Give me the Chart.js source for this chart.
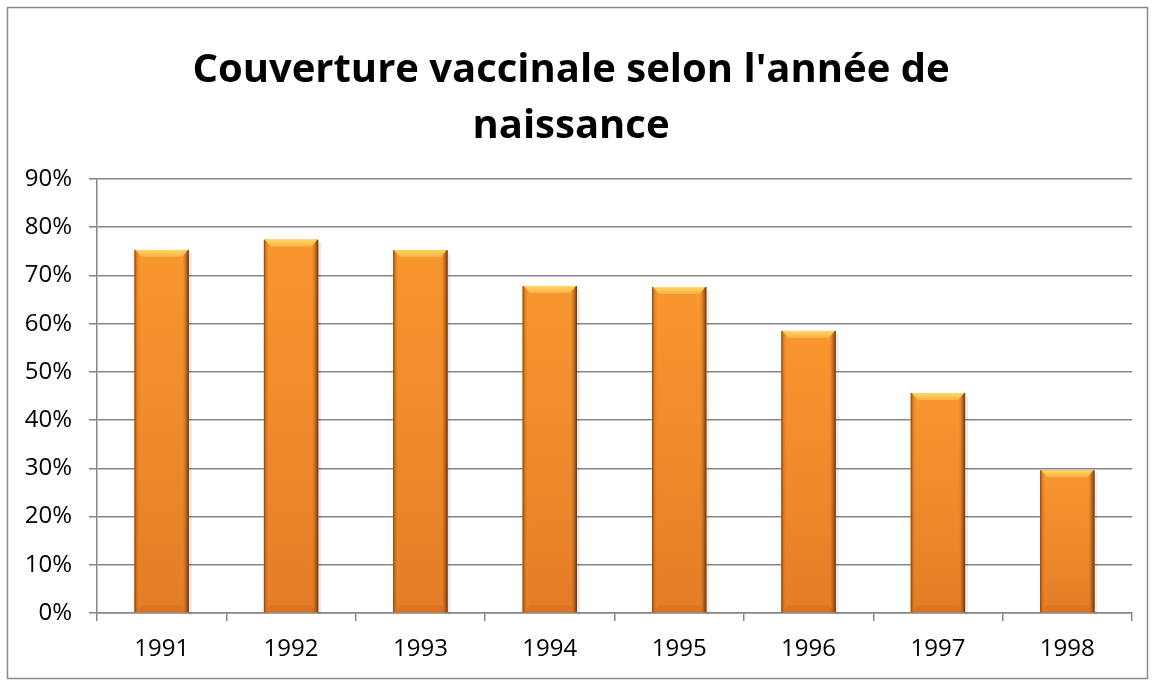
<!DOCTYPE html>
<html>
<head>
<meta charset="utf-8">
<script src="https://cdn.jsdelivr.net/npm/chart.js@4/dist/chart.umd.min.js"></script>
<style>
  html, body { margin: 0; padding: 0; background: #fff; }
  #box { width: 1155px; height: 681px; }
</style>
</head>
<body>
<div id="box"><canvas id="grafica" width="1155" height="681"></canvas></div>
<script>
const annees = ["1991", "1992", "1993", "1994", "1995", "1996", "1997", "1998"];
const couverture = [75.3, 77.4, 75.2, 67.8, 67.6, 58.5, 45.6, 29.6];
const titre = ["Couverture vaccinale selon l'année de", "naissance"];

const police = "'Open Sans', 'Noto Sans', sans-serif";

const cadre = {
  id: "cadre",
  beforeDraw(chart) {
    const c = chart.ctx;
    c.save();
    c.fillStyle = "#fff";
    c.fillRect(0, 0, chart.width, chart.height);
    c.strokeStyle = "#8a8a8a";
    c.lineWidth = 1.5;
    c.strokeRect(7.5, 7.5, 1140, 671);
    c.restore();
  }
};

// effet biseau facon Excel, dessine par-dessus chaque barre
const biseau = {
  id: "biseau",
  afterDatasetsDraw(chart) {
    const c = chart.ctx;
    const meta = chart.getDatasetMeta(0);
    c.save();
    meta.data.forEach(b => {
      const g = b.x - b.width / 2, d = b.x + b.width / 2;
      const haut = b.y, bas = b.base;
      const h = 7;

      // ombre legere
      c.fillStyle = "rgba(0,0,0,0.08)";
      c.fillRect(d, haut + 3, 3, bas - haut);

      // fond : degrade vertical
      const v = c.createLinearGradient(0, haut, 0, bas);
      v.addColorStop(0, "#F9972F");
      v.addColorStop(1, "#E47D27");
      c.fillStyle = v;
      c.fillRect(g, haut, d - g, bas - haut);

      // bords gauche / droit
      const hz = c.createLinearGradient(g, 0, d, 0);
      hz.addColorStop(0, "rgba(110,55,10,0.9)");
      hz.addColorStop(0.04, "rgba(190,100,25,0.5)");
      hz.addColorStop(0.12, "rgba(255,160,60,0)");
      hz.addColorStop(0.86, "rgba(255,160,60,0)");
      hz.addColorStop(0.94, "rgba(160,80,20,0.5)");
      hz.addColorStop(1, "rgba(90,45,10,0.95)");
      c.fillStyle = hz;
      c.fillRect(g, haut, d - g, bas - haut);

      // haut clair
      const grad = c.createLinearGradient(0, haut, 0, haut + h);
      grad.addColorStop(0, "#FDD865");
      grad.addColorStop(1, "#F9B043");
      c.fillStyle = grad;
      c.beginPath();
      c.moveTo(g + 1, haut);
      c.lineTo(d - 1, haut);
      c.lineTo(d - h, haut + h);
      c.lineTo(g + h, haut + h);
      c.closePath();
      c.fill();

      // bas
      c.fillStyle = "rgba(200,100,30,0.35)";
      c.beginPath();
      c.moveTo(g + 1, bas);
      c.lineTo(d - 1, bas);
      c.lineTo(d - h, bas - h);
      c.lineTo(g + h, bas - h);
      c.closePath();
      c.fill();
    });
    c.restore();
  }
};

const ctx = document.getElementById("grafica").getContext("2d");
new Chart(ctx, {
  type: "bar",
  data: {
    labels: annees,
    datasets: [{
      label: "Couverture",
      data: couverture,
      backgroundColor: "#F7922F",
      borderWidth: 0,
      barPercentage: 0.42,
      categoryPercentage: 1
    }]
  },
  options: {
    responsive: false,
    animation: false,
    layout: { padding: { left: 10, right: 23, top: 10, bottom: 10 } },
    plugins: {
      legend: { display: false },
      tooltip: { enabled: false },
      title: {
        display: true,
        text: titre,
        color: "#000",
        font: { family: police, size: 40, weight: "bold", lineHeight: 1.4 },
        padding: { top: 33, bottom: 24 }
      }
    },
    scales: {
      x: {
        grid: { offset: true, drawOnChartArea: false, color: "#868686", lineWidth: 1.5, tickLength: 8 },
        border: { color: "#868686", width: 1.5 },
        ticks: { color: "#000", font: { family: police, size: 24 }, padding: 14 },
        afterFit(s) { s.height = 58; }
      },
      y: {
        min: 0,
        max: 90,
        grid: { color: "#868686", lineWidth: 1.5, tickLength: 8 },
        border: { color: "#868686", width: 1.5 },
        ticks: {
          stepSize: 10,
          color: "#000",
          font: { family: police, size: 24 },
          padding: 17,
          callback: v => v + "%"
        },
        afterFit(s) { s.width = 87; }
      }
    }
  },
  plugins: [cadre, biseau]
});
</script>
</body>
</html>
